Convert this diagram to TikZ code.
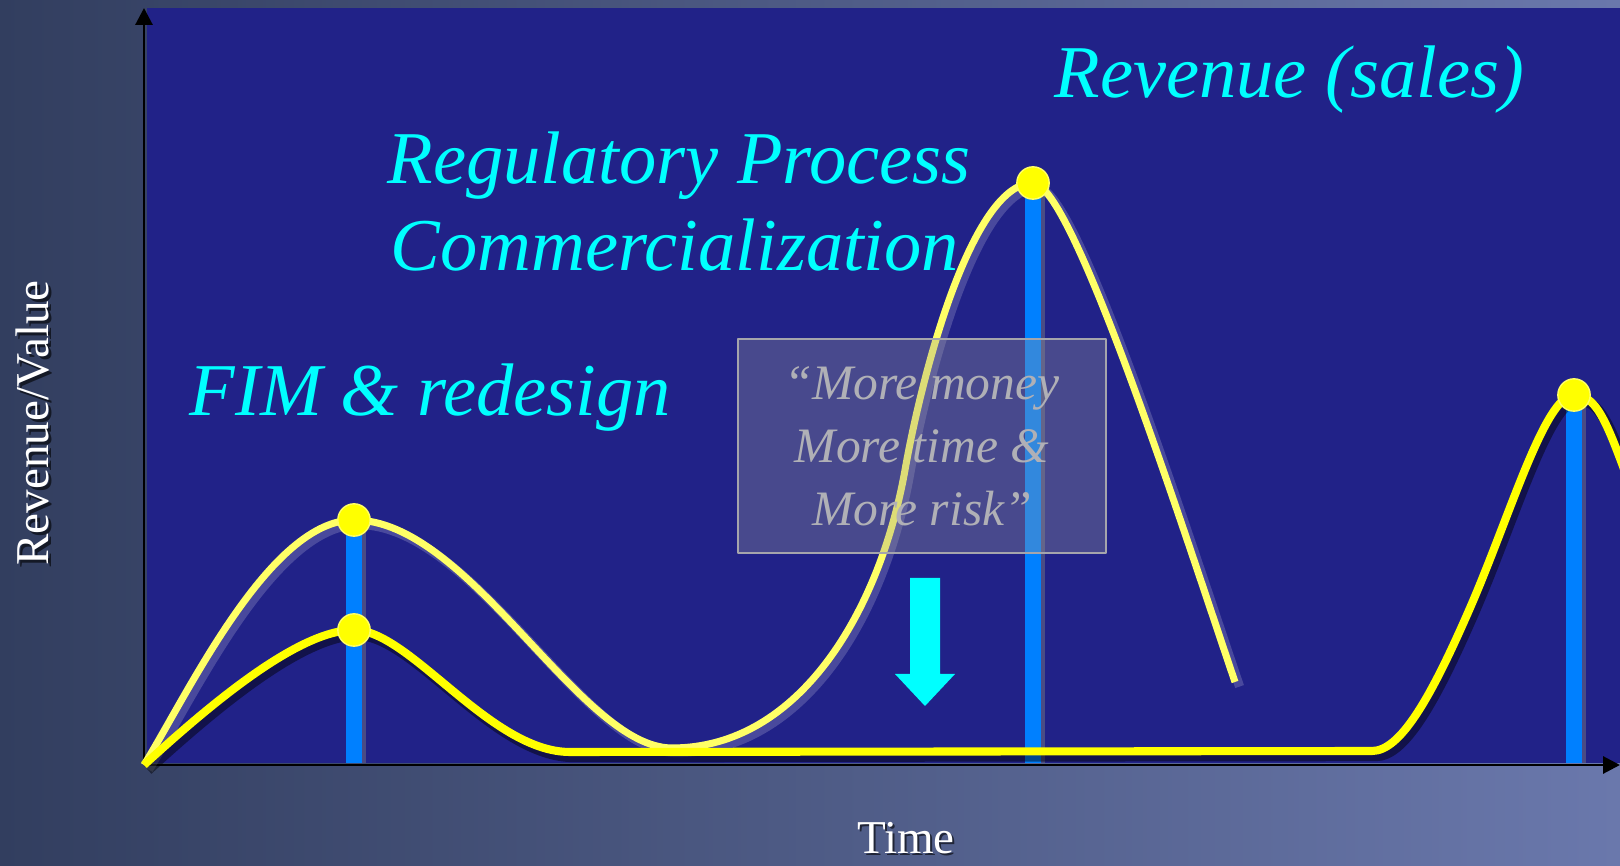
\documentclass[tikz,border=0pt]{standalone}
\usepackage{fontspec}
\setmainfont{Liberation Serif}
\usepackage{tikz}
\usetikzlibrary{%
	arrows.meta%
}
\definecolor{bgleft}{RGB}{50,62,95}
\definecolor{bgright}{RGB}{106,120,172}
\definecolor{navy}{RGB}{33,34,136}
\definecolor{barblue}{RGB}{0,128,255}
\definecolor{hiyellow}{RGB}{255,255,0}
\definecolor{paleyellow}{RGB}{255,255,102}
\definecolor{cyantext}{RGB}{0,255,255}
\definecolor{boxtext}{RGB}{176,176,182}
\definecolor{boxedge}{RGB}{165,165,172}
\definecolor{boxfill}{RGB}{153,153,153}

\tikzstyle{bigtext}=[text=cyantext, font=\fontsize{21.2}{24.75}\selectfont\itshape, inner sep=0pt, anchor=base west]
\tikzstyle{axislabel}=[text=white, font=\fontsize{13.4}{16}\selectfont, inner sep=0pt]
\tikzstyle{axis}=[draw=black, line width=.85pt, -{Triangle[length=4.8pt,width=4.8pt]}]
\tikzstyle{bar}=[draw=barblue, line width=4.3pt]
\tikzstyle{barshadow}=[draw=gray, line width=3pt, opacity=.45]
\tikzstyle{lowline}=[draw=hiyellow, line width=2.3pt]
\tikzstyle{lowshadow}=[draw=black, line width=3pt, opacity=.45, transform canvas={xshift=1.1pt, yshift=-1.4pt}]
\tikzstyle{highline}=[draw=paleyellow, line width=2pt]
\tikzstyle{highglow}=[draw=white, line width=2.6pt, opacity=.18, transform canvas={xshift=1.3pt, yshift=-1.3pt}]
\tikzstyle{dot}=[fill=hiyellow, draw=paleyellow, line width=.4pt]
\tikzstyle{riskbox}=[draw=boxedge, line width=.5pt, fill=boxfill, fill opacity=.33, text opacity=1,
	minimum width=104.7pt, minimum height=60.9pt, inner sep=0pt, align=center,
	text=boxtext, font=\fontsize{14.1}{17.9}\selectfont\itshape]

% the two curves, through the named peaks
\newcommand{\lowcurve}{(o) .. controls (215,700) and (300,630) .. (peakB)
	.. controls (410,630) and (490,752) .. (570,752) -- (1372,751)
	.. controls (1400,751) and (1430,700) .. (1470,608)
	.. controls (1510,516) and (1545,395) .. (peakD)
	.. controls (1596,395) and (1606,420) .. (1628,480)}
\newcommand{\highcurve}{(o) .. controls (190,690) and (270,520) .. (peakA)
	.. controls (470,520) and (580,748) .. (672,748)
	.. controls (800,748) and (880,610) .. (905,470)
	.. controls (925,358) and (975,183) .. (peakC)
	.. controls (1072,183) and (1180,520) .. (1235,682)}

\begin{document}
\begin{tikzpicture}[x=0.1mm, y=-0.1mm, line join=round]
	\useasboundingbox (0,0) rectangle (1620,866);
	\shade[left color=bgleft, right color=bgright] (0,0) rectangle (1620,866);
	\fill[navy] (147,8) rectangle (1620,763);

	\coordinate (o) at (144,765);
	\coordinate (ytop) at (144,8);
	\coordinate (xend) at (1620,765);
	\coordinate (peakA) at (354,520);
	\coordinate (peakB) at (354,630);
	\coordinate (peakC) at (1033,183);
	\coordinate (peakD) at (1574,395);
	\coordinate (footA) at (354,763);
	\coordinate (footC) at (1033,763);
	\coordinate (footD) at (1574,763);

	% Bars under the peaks
	\foreach \p/\f in {peakA/footA, peakC/footC, peakD/footD} {
		\draw[barshadow] ([xshift=2pt]\p) -- ([xshift=2pt]\f);
		\draw[bar] (\p) -- (\f);
	}

	\draw[axis] (o) -- (ytop);
	\draw[axis] (o) -- (xend);

	\draw[highglow] \highcurve;
	\draw[lowshadow] \lowcurve;
	\draw[highline] \highcurve;
	\draw[lowline] \lowcurve;

	% Peak markers
	\foreach \p in {peakA,peakB,peakC,peakD}
	\draw[dot] (\p) circle (4.6pt);

	\node[riskbox] (risk) at (922,446) {\textquotedblleft More money\\More time \&\\More risk\textquotedblright};
	\fill[cyantext] (910,578) -- (940,578) -- (940,674) -- (955,674) -- (925,706) -- (895,674) -- (910,674) -- cycle;

	\node[bigtext] (sales) at (1054,98) {Revenue (sales)};
	\node[bigtext] (reg) at (387,184) {Regulatory Process};
	\node[bigtext] (comm) at (390,271) {Commercialization};
	\node[bigtext] (fim) at (189,416) {FIM \& redesign};

	\node[axislabel, text=black, text opacity=.6, rotate=90, anchor=base] (valueshadow) at (51,426) {Revenue/Value};
	\node[axislabel, rotate=90, anchor=base] (value) at (48,423) {Revenue/Value};
	\node[axislabel, text=black, text opacity=.6, anchor=base] (timeshadow) at (908,856) {Time};
	\node[axislabel, anchor=base] (time) at (906,854) {Time};
\end{tikzpicture}
\end{document}
